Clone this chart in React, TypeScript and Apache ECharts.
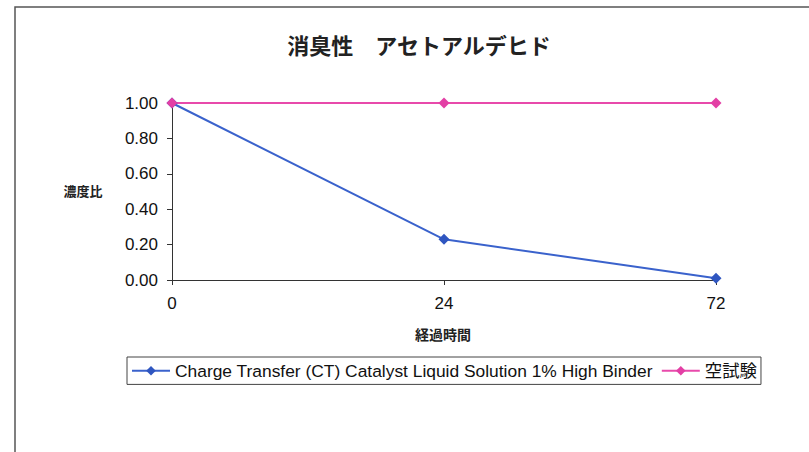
import React, { useEffect, useRef } from "react";
import * as echarts from "echarts";

const categories = ["0", "24", "72"];
const ctValues = [1.0, 0.23, 0.01];
const blankValues = [1.0, 1.0, 1.0];
const seriesNames = ["Charge Transfer (CT) Catalyst Liquid Solution 1% High Binder", "空試験"];
const titleText = "消臭性　アセトアルデヒド";
const yAxisName = "濃度比";
const xAxisName = "経過時間";

export default function App() {
  const ref = useRef<HTMLDivElement>(null);
  useEffect(() => {
    const chart = echarts.init(ref.current!, null, { renderer: "svg" });
    const font = "'Liberation Sans', Arial, sans-serif";
    const jp = "'Noto Sans CJK JP', sans-serif";
    chart.setOption({
      animation: false,
      backgroundColor: "#ffffff",
      graphic: [
        {
          type: "rect",
          shape: { x: 15, y: 7, width: 820, height: 470 },
          style: { fill: "none", stroke: "#555", lineWidth: 1.5 },
          silent: true,
        },
        {
          type: "text",
          x: 419,
          y: 44,
          style: {
            text: titleText,
            font: `bold 22px ${jp}`,
            fill: "#222",
            textAlign: "center",
            textVerticalAlign: "middle",
          },
        },
        {
          type: "text",
          x: 83,
          y: 190,
          style: {
            text: yAxisName,
            font: `bold 13px ${jp}`,
            fill: "#222",
            textAlign: "center",
            textVerticalAlign: "middle",
          },
        },
        {
          type: "text",
          x: 443,
          y: 334,
          style: {
            text: xAxisName,
            font: `bold 14px ${jp}`,
            fill: "#222",
            textAlign: "center",
            textVerticalAlign: "middle",
          },
        },
      ],
      legend: {
        left: 127,
        top: 357,
        padding: [5, 4, 5, 4],
        borderColor: "#444",
        borderWidth: 1,
        itemWidth: 38,
        itemHeight: 12,
        itemGap: 8,
        textStyle: { fontSize: 17.4, fontFamily: `${font}, 'Noto Sans CJK JP'`, color: "#111" },
        data: seriesNames,
      },
      grid: { left: 172, right: 93, top: 103, bottom: 172 },
      xAxis: {
        type: "category",
        data: categories,
        boundaryGap: false,
        axisLine: { lineStyle: { color: "#333", width: 1 } },
        axisTick: { show: true, length: 5, alignWithLabel: true, lineStyle: { color: "#333" } },
        axisLabel: { fontSize: 17, fontFamily: font, color: "#111", margin: 15 },
        splitLine: { show: false },
      },
      yAxis: {
        type: "value",
        min: 0,
        max: 1,
        interval: 0.2,
        axisLine: { show: true, lineStyle: { color: "#333", width: 1 } },
        axisTick: { show: true, length: 5, lineStyle: { color: "#333" } },
        axisLabel: {
          fontSize: 17,
          fontFamily: font,
          color: "#111",
          margin: 14,
          formatter: (v: number) => v.toFixed(2),
        },
        splitLine: { show: false },
      },
      series: [
        {
          name: seriesNames[0],
          type: "line",
          data: ctValues,
          symbol: "diamond",
          symbolSize: 11,
          lineStyle: { color: "#3a62cc", width: 2 },
          itemStyle: { color: "#2f56c0" },
        },
        {
          name: seriesNames[1],
          type: "line",
          data: blankValues,
          symbol: "diamond",
          symbolSize: 11,
          lineStyle: { color: "#e84aab", width: 2 },
          itemStyle: { color: "#e33fa5" },
        },
      ],
    });
    return () => chart.dispose();
  }, []);
  return (
    <div
      ref={ref}
      style={{ position: "fixed", left: 0, top: 0, width: 809, height: 452 }}
    />
  );
}
